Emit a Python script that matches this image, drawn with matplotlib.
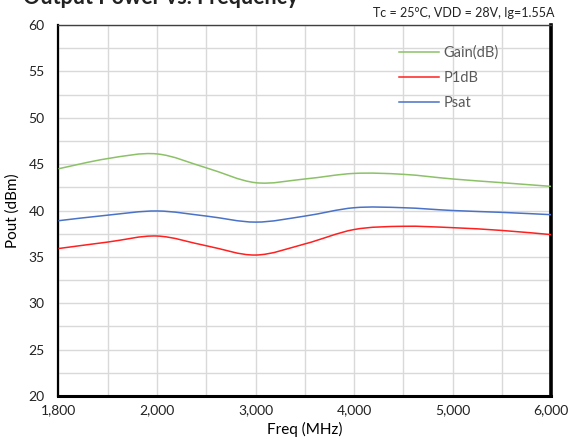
# Output power vs frequency chart (Excel style, smoothed lines)
import numpy as np
import matplotlib
matplotlib.use('Agg')
import matplotlib.pyplot as plt
from matplotlib.path import Path
from matplotlib.patches import PathPatch
from matplotlib.lines import Line2D

plt.rcParams['font.family'] = ['Lato', 'DejaVu Sans']

# Data
freq_labels = ['1,800', '1,900', '2,000', '2,500', '3,000', '3,500',
               '4,000', '4,500', '5,000', '5,500', '6,000']
gain = [44.5, 45.6, 46.1, 44.6, 43.0, 43.4, 44.0, 43.9, 43.4, 43.0, 42.6]
p1db = [35.9, 36.6, 37.25, 36.2, 35.2, 36.4, 37.95, 38.3, 38.15, 37.85, 37.4]
psat = [38.9, 39.5, 39.95, 39.4, 38.75, 39.4, 40.3, 40.3, 40.0, 39.8, 39.55]

series_names = ['Gain(dB)', 'P1dB', 'Psat']
series_colors = ['#8CC168', '#FF2020', '#4A72C6']


def smooth_path(xs, ys):
    # catmull-rom style bezier, like excel "smoothed line"
    pts = np.column_stack([xs, ys]).astype(float)
    verts = [pts[0]]
    codes = [Path.MOVETO]
    n = len(pts)
    for i in range(n - 1):
        p0 = pts[i - 1] if i > 0 else pts[i]
        p1 = pts[i]
        p2 = pts[i + 1]
        p3 = pts[i + 2] if i + 2 < n else pts[i + 1]
        c1 = p1 + (p2 - p0) / 6.0
        c2 = p2 - (p3 - p1) / 6.0
        verts += [c1, c2, p2]
        codes += [Path.CURVE4] * 3
    return Path(verts, codes)


fig = plt.figure(figsize=(5.69, 4.43), dpi=100)
ax = fig.add_axes([0.1028, 0.106, 0.866, 0.8376])

x = np.arange(len(freq_labels))
handles = []
for vals, name, col in zip([gain, p1db, psat], series_names, series_colors):
    patch = PathPatch(smooth_path(x, vals), facecolor='none', edgecolor=col,
                      lw=1.1, zorder=3)
    ax.add_patch(patch)
    handles.append(Line2D([], [], color=col, lw=1.1, label=name))

ax.set_xlim(0, len(freq_labels) - 1)
ax.set_ylim(20, 60)

ax.set_xticks(x[::2])
ax.set_xticklabels(freq_labels[::2])
ax.set_xticks(x, minor=True)
ax.set_yticks(np.arange(20, 61, 5))
ax.set_yticks(np.arange(20, 60.1, 2.5), minor=True)

ax.grid(True, which='both', color='#D9D9D9', lw=1)
ax.set_axisbelow(True)
ax.tick_params(which='both', length=0)
ax.tick_params(axis='both', labelsize=10, labelcolor='#222222')
ax.tick_params(axis='x', pad=6)
ax.tick_params(axis='y', pad=10)

for side, w, c in [('left', 1.6, 'black'), ('bottom', 2.2, 'black'),
                   ('right', 2.6, 'black'), ('top', 1.0, '#404040')]:
    ax.spines[side].set_linewidth(w)
    ax.spines[side].set_color(c)

ax.set_xlabel('Freq (MHz)', fontsize=11, labelpad=4)
ax.set_ylabel('Pout (dBm)', fontsize=11, labelpad=6)

leg = ax.legend(handles=handles, loc='upper left', bbox_to_anchor=(0.665, 0.98),
                frameon=False, fontsize=10.5, handlelength=2.7, handletextpad=0.35,
                labelspacing=0.75, labelcolor='#595959')

# title (cut off at the top in the original)
fig.text(0.04, 1 - 4 / 443, 'Output Power vs. Frequency', fontsize=15.5,
         fontweight='bold', va='baseline', ha='left', color='#222222')
fig.text(0.975, 1 - 17 / 443, 'Tc = 25°C, VDD = 28V, Ig=1.55A', fontsize=9,
         va='baseline', ha='right', color='#222222')

fig.savefig('out.png', dpi=100)
